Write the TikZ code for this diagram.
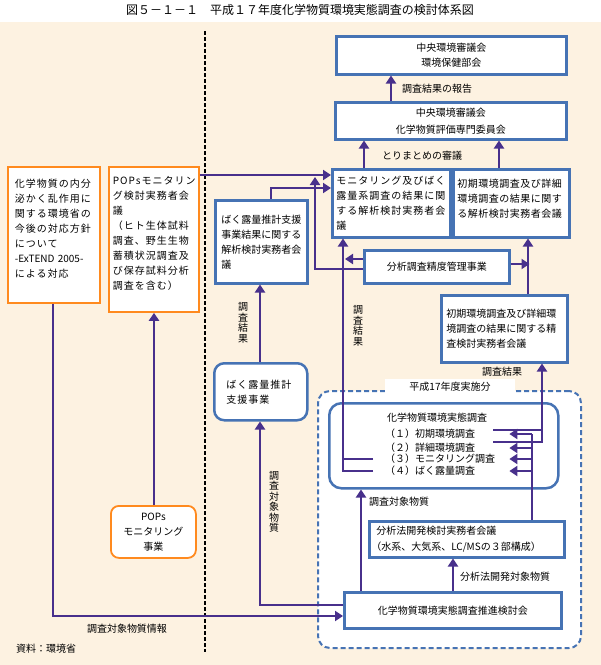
\documentclass[tikz,border=0pt]{standalone}
\usepackage{fontspec}
\setmainfont{Noto Sans CJK JP}
\newfontfamily\widejp[LetterSpace=10]{Noto Sans CJK JP}
\newfontfamily\midjp[LetterSpace=5]{Noto Sans CJK JP}
\usepackage{tikz}
\usetikzlibrary{arrows.meta}

\definecolor{cream}{RGB}{253,242,225}
\definecolor{boxblue}{RGB}{70,115,180}
\definecolor{popsorange}{RGB}{255,138,30}
\definecolor{flowpurple}{RGB}{72,48,140}

\tikzset{
  flow/.style = {draw=flowpurple, line width=2.6pt},
  box/.style = {draw=boxblue, line width=2.5pt, fill=white, anchor=north west, align=left,
    inner xsep=5pt, inner ysep=2pt, font=\fontsize{10}{15}\selectfont},
  popsbox/.style = {box, draw=popsorange, line width=1.8pt},
  roundbox/.style = {box, rounded corners=10pt},
  lbl/.style = {inner sep=0pt, font=\fontsize{10}{12}\selectfont},
  vlbl/.style = {inner sep=0pt, align=center, font=\fontsize{10}{10.5}\selectfont},
  item/.style = {anchor=west, text width=108pt, align=left, inner sep=0pt, font=\fontsize{10}{12}\selectfont}
}

\begin{document}
\begin{tikzpicture}[x=1pt, y=-1pt, >={Triangle[length=8pt,width=10pt]}]
        \useasboundingbox (0,0) rectangle (601,665);
        \fill[white] (0,0) rectangle (601,22);
        \fill[cream] (0,22) rectangle (601,665);
        \node[inner sep=0pt, font=\fontsize{12}{14}\selectfont] (title) at (300,10) {図５－１－１　平成１７年度化学物質環境実態調査の検討体系図};
        \draw[black, line width=2pt, dash pattern=on 4pt off 2pt] (205,31) -- (205,652);

        \node[draw=boxblue, line width=2pt, dash pattern=on 5pt off 3pt, fill=white, rounded corners=12pt,
          anchor=north west, minimum width=263pt, minimum height=257pt] (jisshi) at (317,390) {};
        \node[fill=white, inner xsep=24pt, inner ysep=3pt, font=\fontsize{10}{12}\selectfont] (jisshilbl) at (450,387) {平成17年度実施分};

        \node[box, align=center, text width=220pt, minimum height=38pt] (kankyo) at (335,35) {中央環境審議会\\環境保健部会};
        \node[box, align=center, text width=221pt, minimum height=37pt] (hyoka) at (334,101) {中央環境審議会\\[2pt]化学物質評価専門委員会};
        \node[box, text width=110pt, inner xsep=4pt, minimum height=68pt, font=\widejp\fontsize{10}{15}\selectfont] (monitor) at (331,168)
          {モニタリング及びばく\\露量系調査の結果に関\\する解析検討実務者会\\議};
        \node[box, text width=108pt, inner xsep=4pt, minimum height=68pt, font=\midjp\fontsize{10}{15}\selectfont] (shokikaiseki) at (452,168)
          {初期環境調査及び詳細\\環境調査の結果に関す\\る解析検討実務者会議\\[-5pt]\mbox{}};
        \node[popsbox, text width=78pt, inner xsep=7pt, minimum height=136pt, font=\widejp\fontsize{10}{15}\selectfont] (naibunpi) at (7,166)
          {化学物質の内分\\泌かく乱作用に\\関する環境省の\\今後の対応方針\\について\\{\rmfamily -ExTEND 2005-}\\による対応\\[-1pt]\mbox{}};
        \node[popsbox, text width=82pt, inner xsep=4pt, minimum height=145pt, font=\widejp\fontsize{10}{15}\selectfont] (popskento) at (108,166)
          {POPsモニタリン\\グ検討実務者会\\議\\（ヒト生体試料\\調査、野生生物\\蓄積状況調査及\\び保存試料分析\\調査を含む）\\[-3pt]\mbox{}};
        \node[box, text width=80pt, inner xsep=6pt, minimum height=83pt] (bakurokaiseki) at (214,199)
          {ばく露量推計支援\\事業結果に関する\\解析検討実務者会\\議};
        \node[roundbox, text width=69pt, inner xsep=12pt, minimum height=57pt, font=\widejp\fontsize{10}{15}\selectfont] (bakurosien) at (213,362)
          {ばく露量推計\\支援事業};
        \node[box, align=center, text width=135pt, minimum height=33pt] (seido) at (363,249) {分析調査精度管理事業};
        \node[box, text width=116pt, inner xsep=5pt, minimum height=67pt] (seisa) at (440,294)
          {初期環境調査及び詳細環\\境調査の結果に関する精\\査検討実務者会議};
        \node[box, rounded corners=12pt, minimum width=229pt, minimum height=85pt] (jittai) at (328,402) {};
        \node[box, text width=191pt, inner xsep=2pt, minimum height=36pt, font=\fontsize{10}{16}\selectfont] (bunsekiho) at (368,520)
          {\hspace{5pt}分析法開発検討実務者会議\\（水系、大気系、LC/MSの３部構成）};
        \node[box, align=center, text width=207pt, minimum height=36pt] (suishin) at (343,591) {化学物質環境実態調査推進検討会};
        \node[popsbox, rounded corners=8pt, align=center, text width=75pt, inner xsep=5pt, minimum height=52pt] (popsjigyo) at (110,505)
          {POPs\\モニタリング\\事業};

        \node[lbl] (jittaittl) at (437,418) {化学物質環境実態調査};
        \node[item] (i1) at (385,434) {（１）初期環境調査};
        \node[item] (i2) at (385,448) {（２）詳細環境調査};
        \node[item] (i3) at (385,459) {（３）モニタリング調査};
        \node[item] (i4) at (385,471) {（４）ばく露量調査};
        \coordinate (junc) at (315,177);

        \draw[flow,->] (hyoka.north -| 391,0) -- (kankyo.south -| 391,0);
        \draw[flow,->] (monitor.north -| 364,0) -- (hyoka.south -| 364,0);
        \draw[flow,->] (shokikaiseki.north -| 499,0) -- (hyoka.south -| 499,0);
        \draw[flow,->] (popskento.east |- 0,175) -- (monitor.west |- 0,175);
        \draw[flow,->] (bakurokaiseki.north -| 271,0) |- (monitor.west |- 0,188);
        \draw[flow,->] (seido.west |- 0,269) -| (junc);
        \draw[flow,->] (seido.west |- 0,259) -- ++(-18,0);
        \draw[flow,->] (seido.east |- 0,264) -- ++(19,0);
        \draw[flow,->] (seisa.north -| 528,0) -- (shokikaiseki.south -| 528,0);
        \draw[flow] ([xshift=-12pt]i3.west) -- (i3.west -| 343,0);
        \draw[flow,->] ([xshift=-12pt]i4.west) -| (monitor.south -| 343,0);
        \draw[flow] (i1.east) ++(0,-4) -- ++(49,0);
        \draw[flow,->] (i2.east) ++(0,-6) -| (seisa.south -| 542,0);
        \draw[flow] (bunsekiho.north -| 532,0) -- (i1.east -| 532,0);
        \foreach \i in {i1,i2,i3,i4}
          \draw[flow,->] (\i.east -| 532,0) -- ([xshift=16pt]\i.east);
        \draw[flow,->] (suishin.north -| 361,0) -- (jittai.south -| 361,0);
        \draw[flow,->] (suishin.north -| 453,0) -- (bunsekiho.south -| 453,0);
        \draw[flow,->] (suishin.west |- 0,605) -| (bakurosien.south -| 260,0);
        \draw[flow,->] (naibunpi.south -| 53,0) |- (suishin.west |- 0,616);
        \draw[flow,->] (popsjigyo.north -| 154,0) -- (popskento.south -| 154,0);
        \draw[flow,->] (bakurosien.north -| 260,0) -- (bakurokaiseki.south -| 260,0);

        \node[lbl, anchor=west] (hokoku) at (402,89) {調査結果の報告};
        \node[lbl, anchor=west] (torimatome) at (382,156) {とりまとめの審議};
        \node[vlbl] (kekka1) at (243,323) {調\\査\\結\\果};
        \node[vlbl] (kekka2) at (358,326) {調\\査\\結\\果};
        \node[lbl, anchor=west] (kekka3) at (482,372) {調査結果};
        \node[vlbl] (taisho1) at (274,502) {調\\査\\対\\象\\物\\質};
        \node[lbl, anchor=west] (taisho2) at (369,502) {調査対象物質};
        \node[lbl, anchor=west] (bunsekitaisho) at (460,577) {分析法開発対象物質};
        \node[lbl] (joho) at (127,629) {調査対象物質情報};
        \node[lbl, anchor=west] (shiryo) at (16,649) {資料：環境省};
      \end{tikzpicture}
\end{document}
